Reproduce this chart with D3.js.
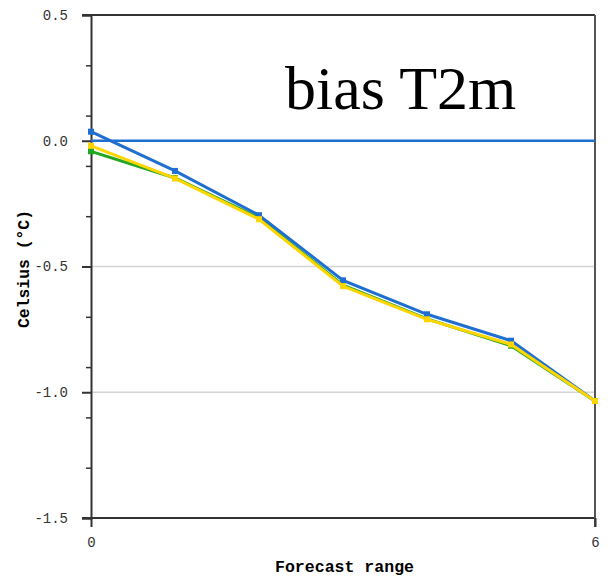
<!DOCTYPE html>
<html>
<head>
<meta charset="utf-8">
<script src="https://cdn.jsdelivr.net/npm/d3@7"></script>
<style>
  html, body { margin: 0; padding: 0; background: #fff; }
  svg { display: block; }
</style>
</head>
<body>
<svg id="chart" width="615" height="577"></svg>
<script>
// ---- data ----
const forecastSteps = [0, 1, 2, 3, 4, 5, 6];
const blueValues   = [0.036, -0.12, -0.296, -0.555, -0.69, -0.795, -1.035];
const greenValues  = [-0.042, -0.148, -0.307, -0.574, -0.708, -0.815, -1.035];
const yellowValues = [-0.02, -0.15, -0.312, -0.578, -0.71, -0.81, -1.035];
const yMajorTicks = [-1.5, -1.0, -0.5, 0.0, 0.5];
const yMinorTicks = [-1.3, -1.1, -0.9, -0.7, -0.3, -0.1, 0.1, 0.3];
const gridValues = [-1.0, -0.5];
const xTicks = [0, 6];
const referenceValue = 0;
const titleText = "bias T2m";
const xLabel = "Forecast range";
const yLabel = "Celsius (°C)";

const series = [
  { name: "green",  values: greenValues,  color: "#22a722" },
  { name: "blue",   values: blueValues,   color: "#1f6fd1" },
  { name: "yellow", values: yellowValues, color: "#ffd500" }
];

// ---- layout ----
const pL = 91, pR = 595, pT = 15, pB = 518;
const svg = d3.select("#chart");
const x = d3.scaleLinear().domain([0, 6]).range([pL, pR]);
const y = d3.scaleLinear().domain([-1.5, 0.5]).range([pB, pT]);
const axisColor = "#333";
const mono = "'Liberation Mono', 'DejaVu Sans Mono', monospace";

// grid
svg.append("g").selectAll("line").data(gridValues).join("line")
  .attr("x1", pL).attr("x2", pR)
  .attr("y1", d => y(d)).attr("y2", d => y(d))
  .attr("stroke", "#d4d4d4").attr("stroke-width", 1.5);

// frame (top, right, bottom)
svg.append("line").attr("x1", pL - 9).attr("x2", pR).attr("y1", y(0.5)).attr("y2", y(0.5))
  .attr("stroke", axisColor).attr("stroke-width", 2);
svg.append("line").attr("x1", pL - 9).attr("x2", pR).attr("y1", y(-1.5)).attr("y2", y(-1.5))
  .attr("stroke", axisColor).attr("stroke-width", 2);
svg.append("line").attr("x1", pR).attr("x2", pR).attr("y1", y(0.5)).attr("y2", y(-1.5) + 9)
  .attr("stroke", "#555").attr("stroke-width", 2);

// y axis
const yAxis = d3.axisLeft(y).tickValues(yMajorTicks).tickFormat(d3.format(".1f")).tickSize(9).tickPadding(14);
const gy = svg.append("g").attr("transform", `translate(${pL},0)`).call(yAxis);
gy.select(".domain").attr("stroke", axisColor).attr("stroke-width", 2);
gy.selectAll(".tick line").attr("stroke", axisColor).attr("stroke-width", 2);
gy.selectAll(".tick text").attr("font-family", mono).attr("font-size", 14).attr("fill", "#333")
  .text(d => d3.format(".1f")(d).replace("−", "-"));
const yMinor = d3.axisLeft(y).tickValues(yMinorTicks).tickFormat("").tickSize(5);
const gym = svg.append("g").attr("transform", `translate(${pL},0)`).call(yMinor);
gym.select(".domain").remove();
gym.selectAll(".tick line").attr("stroke", axisColor).attr("stroke-width", 1.5);

// x axis ticks
const xAxis = d3.axisBottom(x).tickValues(xTicks).tickFormat(d3.format("d")).tickSize(9).tickPadding(10);
const gx = svg.append("g").attr("transform", `translate(0,${pB})`).call(xAxis);
gx.select(".domain").remove();
gx.selectAll(".tick line").attr("stroke", axisColor).attr("stroke-width", 2);
gx.selectAll(".tick text").attr("font-family", mono).attr("font-size", 14).attr("fill", "#333");

// reference line
svg.append("line").attr("x1", pL).attr("x2", pR)
  .attr("y1", y(referenceValue)).attr("y2", y(referenceValue))
  .attr("stroke", "#1f6fd1").attr("stroke-width", 2.5);

// series
const line = d3.line().x((d, i) => x(forecastSteps[i])).y(d => y(d));
series.forEach(s => {
  const g = svg.append("g");
  g.append("path").datum(s.values).attr("d", line)
    .attr("fill", "none").attr("stroke", s.color).attr("stroke-width", 3);
  g.selectAll("rect").data(s.values).join("rect")
    .attr("x", (d, i) => x(forecastSteps[i]) - 3).attr("y", d => y(d) - 3)
    .attr("width", 6).attr("height", 6).attr("fill", s.color);
});

// title
svg.append("text").attr("x", 285).attr("y", 109)
  .attr("font-family", "'Liberation Serif', 'Times New Roman', serif")
  .attr("font-size", 62).attr("fill", "#000").text(titleText);

// axis labels
svg.append("text").attr("x", 344.5).attr("y", 572).attr("text-anchor", "middle")
  .attr("font-family", mono).attr("font-weight", "bold").attr("font-size", 16)
  .attr("textLength", 139).attr("lengthAdjust", "spacingAndGlyphs")
  .attr("fill", "#000").text(xLabel);
svg.append("text").attr("transform", "translate(29,269) rotate(-90)").attr("text-anchor", "middle")
  .attr("font-family", mono).attr("font-weight", "bold").attr("font-size", 16)
  .attr("textLength", 118).attr("lengthAdjust", "spacingAndGlyphs")
  .attr("fill", "#000").text(yLabel);
</script>
</body>
</html>
